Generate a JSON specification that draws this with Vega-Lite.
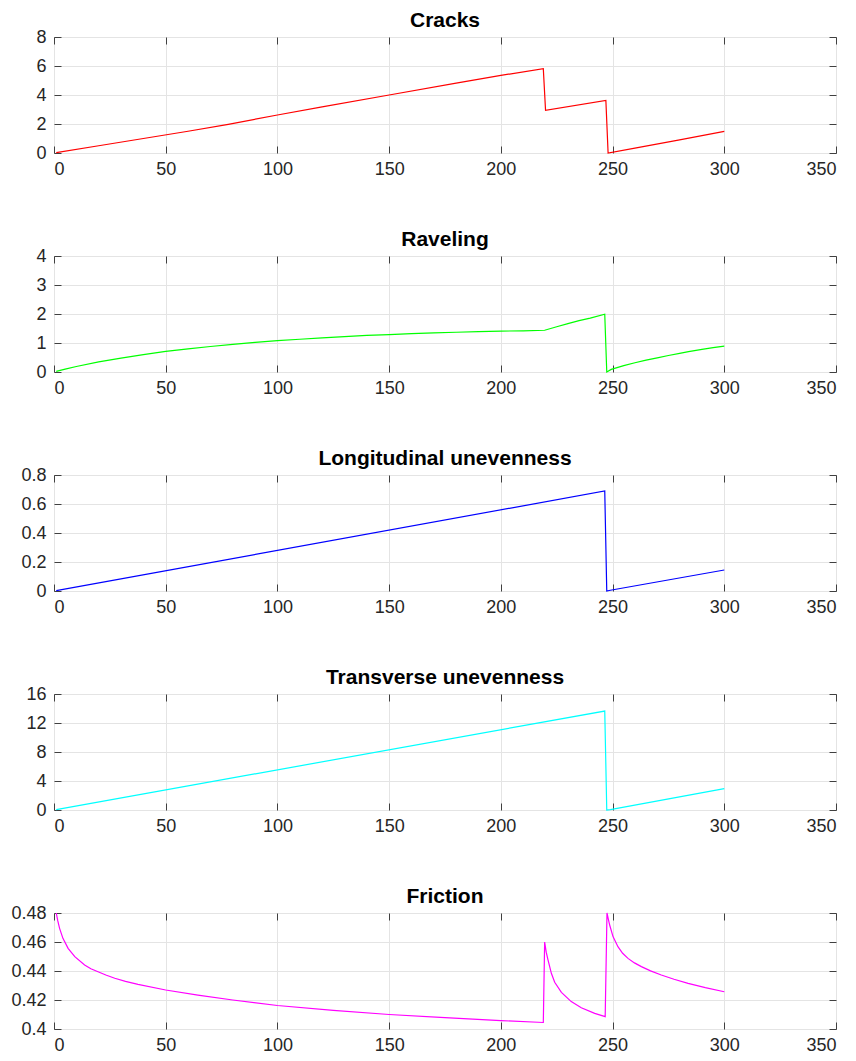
{
  "$schema": "https://vega.github.io/schema/vega-lite/v6.json",
  "autosize": {"type": "pad"},
  "padding": {"top": 9, "left": 10, "right": 2, "bottom": 4},
  "background": "white",
  "spacing": 103,
  "bounds": "flush",
  "data": {"values": [
    {"metric": "Cracks", "t": 1, "v": 0.03},
    {"metric": "Cracks", "t": 20, "v": 0.5},
    {"metric": "Cracks", "t": 40, "v": 1.0},
    {"metric": "Cracks", "t": 60, "v": 1.5},
    {"metric": "Cracks", "t": 78, "v": 1.98},
    {"metric": "Cracks", "t": 100, "v": 2.62},
    {"metric": "Cracks", "t": 120, "v": 3.18},
    {"metric": "Cracks", "t": 150, "v": 4.0},
    {"metric": "Cracks", "t": 180, "v": 4.82},
    {"metric": "Cracks", "t": 200, "v": 5.35},
    {"metric": "Cracks", "t": 219, "v": 5.82},
    {"metric": "Cracks", "t": 220, "v": 2.94},
    {"metric": "Cracks", "t": 247, "v": 3.63},
    {"metric": "Cracks", "t": 248, "v": 0.0},
    {"metric": "Cracks", "t": 260, "v": 0.34},
    {"metric": "Cracks", "t": 280, "v": 0.91},
    {"metric": "Cracks", "t": 300, "v": 1.49},

    {"metric": "Raveling", "t": 1, "v": 0.02},
    {"metric": "Raveling", "t": 5, "v": 0.1},
    {"metric": "Raveling", "t": 10, "v": 0.19},
    {"metric": "Raveling", "t": 20, "v": 0.35},
    {"metric": "Raveling", "t": 30, "v": 0.48},
    {"metric": "Raveling", "t": 40, "v": 0.6},
    {"metric": "Raveling", "t": 50, "v": 0.71},
    {"metric": "Raveling", "t": 60, "v": 0.8},
    {"metric": "Raveling", "t": 70, "v": 0.88},
    {"metric": "Raveling", "t": 80, "v": 0.95},
    {"metric": "Raveling", "t": 90, "v": 1.02},
    {"metric": "Raveling", "t": 100, "v": 1.08},
    {"metric": "Raveling", "t": 110, "v": 1.13},
    {"metric": "Raveling", "t": 120, "v": 1.18},
    {"metric": "Raveling", "t": 130, "v": 1.22},
    {"metric": "Raveling", "t": 140, "v": 1.26},
    {"metric": "Raveling", "t": 150, "v": 1.29},
    {"metric": "Raveling", "t": 160, "v": 1.32},
    {"metric": "Raveling", "t": 170, "v": 1.35},
    {"metric": "Raveling", "t": 180, "v": 1.37},
    {"metric": "Raveling", "t": 190, "v": 1.39},
    {"metric": "Raveling", "t": 200, "v": 1.41},
    {"metric": "Raveling", "t": 210, "v": 1.42},
    {"metric": "Raveling", "t": 219.6, "v": 1.44},
    {"metric": "Raveling", "t": 225, "v": 1.56},
    {"metric": "Raveling", "t": 230, "v": 1.67},
    {"metric": "Raveling", "t": 235, "v": 1.77},
    {"metric": "Raveling", "t": 240, "v": 1.86},
    {"metric": "Raveling", "t": 246.5, "v": 1.99},
    {"metric": "Raveling", "t": 247.4, "v": 0.0},
    {"metric": "Raveling", "t": 249.4, "v": 0.09},
    {"metric": "Raveling", "t": 252, "v": 0.15},
    {"metric": "Raveling", "t": 255, "v": 0.22},
    {"metric": "Raveling", "t": 260, "v": 0.32},
    {"metric": "Raveling", "t": 265, "v": 0.41},
    {"metric": "Raveling", "t": 270, "v": 0.49},
    {"metric": "Raveling", "t": 275, "v": 0.57},
    {"metric": "Raveling", "t": 280, "v": 0.64},
    {"metric": "Raveling", "t": 284, "v": 0.7},
    {"metric": "Raveling", "t": 290, "v": 0.78},
    {"metric": "Raveling", "t": 295, "v": 0.84},
    {"metric": "Raveling", "t": 300, "v": 0.89},

    {"metric": "Longitudinal", "t": 1, "v": 0.003},
    {"metric": "Longitudinal", "t": 246.5, "v": 0.69},
    {"metric": "Longitudinal", "t": 247.4, "v": 0.0},
    {"metric": "Longitudinal", "t": 249, "v": 0.005},
    {"metric": "Longitudinal", "t": 300, "v": 0.145},

    {"metric": "Transverse", "t": 1, "v": 0.05},
    {"metric": "Transverse", "t": 246.5, "v": 13.65},
    {"metric": "Transverse", "t": 247.4, "v": 0.0},
    {"metric": "Transverse", "t": 249, "v": 0.05},
    {"metric": "Transverse", "t": 300, "v": 2.95},

    {"metric": "Friction", "t": 1, "v": 0.48},
    {"metric": "Friction", "t": 1.7, "v": 0.4745},
    {"metric": "Friction", "t": 2.5, "v": 0.4694},
    {"metric": "Friction", "t": 4, "v": 0.4625},
    {"metric": "Friction", "t": 6.3, "v": 0.4556},
    {"metric": "Friction", "t": 9.3, "v": 0.4499},
    {"metric": "Friction", "t": 13.7, "v": 0.4441},
    {"metric": "Friction", "t": 16.5, "v": 0.4416},
    {"metric": "Friction", "t": 19.7, "v": 0.4395},
    {"metric": "Friction", "t": 23.2, "v": 0.4372},
    {"metric": "Friction", "t": 27.2, "v": 0.435},
    {"metric": "Friction", "t": 32, "v": 0.4329},
    {"metric": "Friction", "t": 37.6, "v": 0.4308},
    {"metric": "Friction", "t": 50, "v": 0.4269},
    {"metric": "Friction", "t": 64.4, "v": 0.4234},
    {"metric": "Friction", "t": 80, "v": 0.42},
    {"metric": "Friction", "t": 100, "v": 0.4162},
    {"metric": "Friction", "t": 125, "v": 0.4128},
    {"metric": "Friction", "t": 150, "v": 0.41},
    {"metric": "Friction", "t": 175, "v": 0.4078},
    {"metric": "Friction", "t": 200, "v": 0.4058},
    {"metric": "Friction", "t": 219, "v": 0.4045},
    {"metric": "Friction", "t": 219.6, "v": 0.46},
    {"metric": "Friction", "t": 220.3, "v": 0.453},
    {"metric": "Friction", "t": 221.1, "v": 0.4476},
    {"metric": "Friction", "t": 222.6, "v": 0.4384},
    {"metric": "Friction", "t": 224.1, "v": 0.4322},
    {"metric": "Friction", "t": 227.1, "v": 0.4253},
    {"metric": "Friction", "t": 231.5, "v": 0.4189},
    {"metric": "Friction", "t": 236, "v": 0.4147},
    {"metric": "Friction", "t": 242, "v": 0.4108},
    {"metric": "Friction", "t": 246.7, "v": 0.4085},
    {"metric": "Friction", "t": 247.5, "v": 0.48},
    {"metric": "Friction", "t": 248.1, "v": 0.4757},
    {"metric": "Friction", "t": 248.7, "v": 0.4717},
    {"metric": "Friction", "t": 250.2, "v": 0.4637},
    {"metric": "Friction", "t": 252.4, "v": 0.4568},
    {"metric": "Friction", "t": 254.5, "v": 0.4522},
    {"metric": "Friction", "t": 256.9, "v": 0.4487},
    {"metric": "Friction", "t": 259.8, "v": 0.4456},
    {"metric": "Friction", "t": 262.9, "v": 0.443},
    {"metric": "Friction", "t": 267, "v": 0.4401},
    {"metric": "Friction", "t": 271.8, "v": 0.4372},
    {"metric": "Friction", "t": 277.5, "v": 0.4343},
    {"metric": "Friction", "t": 283.8, "v": 0.4315},
    {"metric": "Friction", "t": 291.5, "v": 0.4285},
    {"metric": "Friction", "t": 300, "v": 0.4257}
  ]},
  "vconcat": [
    {
      "title": "Cracks",
      "width": 782, "height": 116,
      "transform": [{"filter": "datum.metric === 'Cracks'"}],
      "layer": [
        {"mark": {"type": "line", "color": "#ff0000", "strokeWidth": 1.2},
         "encoding": {
           "x": {"field": "t", "type": "quantitative", "scale": {"domain": [0, 350], "nice": false}, "axis": {"values": [0, 50, 100, 150, 200, 250, 300, 350], "title": null}},
           "y": {"field": "v", "type": "quantitative", "scale": {"domain": [0, 8], "nice": false, "zero": false}, "axis": {"values": [0, 2, 4, 6, 8], "title": null, "format": "~g"}}}},
        {"mark": {"type": "line", "opacity": 0},
         "encoding": {
           "x": {"field": "t", "type": "quantitative", "axis": {"orient": "top", "labels": false, "grid": false, "values": [0, 50, 100, 150, 200, 250, 300, 350], "title": null}},
           "y": {"field": "v", "type": "quantitative", "axis": {"orient": "right", "labels": false, "grid": false, "values": [0, 2, 4, 6, 8], "title": null}}}}
      ],
      "resolve": {"axis": {"x": "independent", "y": "independent"}}
    },
    {
      "title": "Raveling",
      "width": 782, "height": 116,
      "transform": [{"filter": "datum.metric === 'Raveling'"}],
      "layer": [
        {"mark": {"type": "line", "color": "#00ff00", "strokeWidth": 1.2},
         "encoding": {
           "x": {"field": "t", "type": "quantitative", "scale": {"domain": [0, 350], "nice": false}, "axis": {"values": [0, 50, 100, 150, 200, 250, 300, 350], "title": null}},
           "y": {"field": "v", "type": "quantitative", "scale": {"domain": [0, 4], "nice": false, "zero": false}, "axis": {"values": [0, 1, 2, 3, 4], "title": null, "format": "~g"}}}},
        {"mark": {"type": "line", "opacity": 0},
         "encoding": {
           "x": {"field": "t", "type": "quantitative", "axis": {"orient": "top", "labels": false, "grid": false, "values": [0, 50, 100, 150, 200, 250, 300, 350], "title": null}},
           "y": {"field": "v", "type": "quantitative", "axis": {"orient": "right", "labels": false, "grid": false, "values": [0, 1, 2, 3, 4], "title": null}}}}
      ],
      "resolve": {"axis": {"x": "independent", "y": "independent"}}
    },
    {
      "title": "Longitudinal unevenness",
      "width": 782, "height": 116,
      "transform": [{"filter": "datum.metric === 'Longitudinal'"}],
      "layer": [
        {"mark": {"type": "line", "color": "#0000ff", "strokeWidth": 1.2},
         "encoding": {
           "x": {"field": "t", "type": "quantitative", "scale": {"domain": [0, 350], "nice": false}, "axis": {"values": [0, 50, 100, 150, 200, 250, 300, 350], "title": null}},
           "y": {"field": "v", "type": "quantitative", "scale": {"domain": [0, 0.8], "nice": false, "zero": false}, "axis": {"values": [0, 0.2, 0.4, 0.6, 0.8], "title": null, "format": "~g"}}}},
        {"mark": {"type": "line", "opacity": 0},
         "encoding": {
           "x": {"field": "t", "type": "quantitative", "axis": {"orient": "top", "labels": false, "grid": false, "values": [0, 50, 100, 150, 200, 250, 300, 350], "title": null}},
           "y": {"field": "v", "type": "quantitative", "axis": {"orient": "right", "labels": false, "grid": false, "values": [0, 0.2, 0.4, 0.6, 0.8], "title": null}}}}
      ],
      "resolve": {"axis": {"x": "independent", "y": "independent"}}
    },
    {
      "title": "Transverse unevenness",
      "width": 782, "height": 116,
      "transform": [{"filter": "datum.metric === 'Transverse'"}],
      "layer": [
        {"mark": {"type": "line", "color": "#00ffff", "strokeWidth": 1.2},
         "encoding": {
           "x": {"field": "t", "type": "quantitative", "scale": {"domain": [0, 350], "nice": false}, "axis": {"values": [0, 50, 100, 150, 200, 250, 300, 350], "title": null}},
           "y": {"field": "v", "type": "quantitative", "scale": {"domain": [0, 16], "nice": false, "zero": false}, "axis": {"values": [0, 4, 8, 12, 16], "title": null, "format": "~g"}}}},
        {"mark": {"type": "line", "opacity": 0},
         "encoding": {
           "x": {"field": "t", "type": "quantitative", "axis": {"orient": "top", "labels": false, "grid": false, "values": [0, 50, 100, 150, 200, 250, 300, 350], "title": null}},
           "y": {"field": "v", "type": "quantitative", "axis": {"orient": "right", "labels": false, "grid": false, "values": [0, 4, 8, 12, 16], "title": null}}}}
      ],
      "resolve": {"axis": {"x": "independent", "y": "independent"}}
    },
    {
      "title": "Friction",
      "width": 782, "height": 116,
      "transform": [{"filter": "datum.metric === 'Friction'"}],
      "layer": [
        {"mark": {"type": "line", "color": "#ff00ff", "strokeWidth": 1.2},
         "encoding": {
           "x": {"field": "t", "type": "quantitative", "scale": {"domain": [0, 350], "nice": false}, "axis": {"values": [0, 50, 100, 150, 200, 250, 300, 350], "title": null}},
           "y": {"field": "v", "type": "quantitative", "scale": {"domain": [0.4, 0.48], "nice": false, "zero": false}, "axis": {"values": [0.4, 0.42, 0.44, 0.46, 0.48], "title": null, "format": "~g"}}}},
        {"mark": {"type": "line", "opacity": 0},
         "encoding": {
           "x": {"field": "t", "type": "quantitative", "axis": {"orient": "top", "labels": false, "grid": false, "values": [0, 50, 100, 150, 200, 250, 300, 350], "title": null}},
           "y": {"field": "v", "type": "quantitative", "axis": {"orient": "right", "labels": false, "grid": false, "values": [0.4, 0.42, 0.44, 0.46, 0.48], "title": null}}}}
      ],
      "resolve": {"axis": {"x": "independent", "y": "independent"}}
    }
  ],
  "config": {
    "view": {"stroke": "#404040", "strokeWidth": 1},
    "axis": {
      "domain": false,
      "grid": true,
      "gridColor": "#e4e4e4",
      "gridWidth": 1,
      "tickSize": -7,
      "tickColor": "#404040",
      "tickWidth": 1,
      "labelFont": "Liberation Sans",
      "labelFontSize": 18,
      "labelColor": "#262626"
    },
    "axisX": {"labelPadding": 14},
    "axisY": {"labelPadding": 15},
    "title": {"font": "Liberation Sans", "fontSize": 21, "fontWeight": "bold", "color": "#000000", "offset": -3}
  }
}
